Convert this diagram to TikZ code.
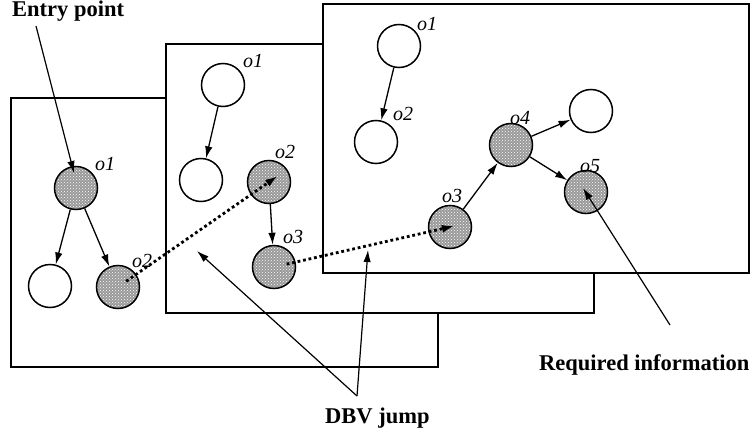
\documentclass[tikz,border=0pt]{standalone}
\usepackage{fontspec}
\setmainfont{Liberation Serif}
\usetikzlibrary{arrows.meta,patterns,calc}
\begin{document}
\begin{tikzpicture}[x=1pt,y=-1pt,
  frame/.style={draw, line width=1.4pt, fill=white},
  obj/.style={circle, draw, line width=1.5pt, minimum size=43pt, inner sep=0pt, fill=white},
  hit/.style={circle, draw, line width=1.5pt, minimum size=43pt, inner sep=0pt,
    preaction={fill=gray!80}, pattern=crosshatch dots, pattern color=white},
  lbl/.style={font=\fontsize{20}{24}\selectfont\itshape, inner sep=0pt},
  big/.style={font=\fontsize{22.5}{26}\selectfont\bfseries, inner sep=0pt},
  link/.style={line width=1.3pt, -{Latex[length=12pt,width=7.5pt]}},
  jump/.style={line width=2.8pt, dash pattern=on 2.8pt off 2.8pt, -{Latex[length=13pt,width=8pt]}},
  note/.style={line width=1.2pt, -{Latex[length=12pt,width=7.5pt]}}]
\useasboundingbox (0,0) rectangle (752,436);
% frames
\draw[frame] (11,98) rectangle (438,367);
\draw[frame] (166,44) rectangle (594,313);
\draw[frame] (323,4) rectangle (749,273);
% frame 1
\node[hit] (a1) at (76,188) {};
\node[obj] (a2) at (50,286) {};
\node[hit] (a3) at (118,287) {};
\node[lbl] (la1) at (105,164) {o1};
\node[lbl] (la3) at (142,261) {o2};
\draw[link] (a1) -- (a2);
\draw[link] (a1) -- (a3);
% frame 2
\node[obj] (b1) at (223,85) {};
\node[obj] (b2) at (201,180) {};
\node[hit] (b3) at (269,182) {};
\node[hit] (b4) at (274,267) {};
\node[lbl] (lb1) at (253,61) {o1};
\node[lbl] (lb3) at (285,152) {o2};
\node[lbl] (lb4) at (293,237) {o3};
\draw[link] (b1) -- (b2);
\draw[link] (b3) -- (b4);
% frame 3
\node[obj] (c1) at (399,46) {};
\node[obj] (c2) at (376,142) {};
\node[hit] (c3) at (450,227) {};
\node[hit] (c4) at (511,145) {};
\node[obj] (c6) at (591,111) {};
\node[hit] (c5) at (586,192) {};
\node[lbl] (lc1) at (427,24) {o1};
\node[lbl] (lc2) at (403,114) {o2};
\node[lbl] (lc3) at (452,196) {o3};
\node[lbl] (lc4) at (520,118) {o4};
\node[lbl] (lc5) at (590,166) {o5};
\draw[link] (c1) -- (c2);
\draw[link] (c3) -- (c4);
\draw[link] (c4) -- (c6);
\draw[link] (c4) -- (c5);
% DBV jumps
\draw[jump] ($(a3.center)!10pt!(b3.center)$) -- ($(b3.center)!-11pt!(a3.center)$);
\draw[jump] ($(b4.center)!13pt!(c3.center)$) -- ($(c3.center)!-5pt!(b4.center)$);
% annotations
\node[big, anchor=base west, text height=15pt] (entry) at (12,17) {Entry point};
\coordinate (entryfoot) at (36,26);
\draw[note] (entryfoot) -- (74,173);
\node[big, anchor=base west] (dbv) at (325,423) {DBV jump};
\coordinate (dbvfoot) at (357,396);
\coordinate (dbvtip1) at (197,251);
\coordinate (dbvtip2) at (368,250);
\draw[note] (dbvfoot) -- (dbvtip1);
\draw[note] (dbvfoot) -- (dbvtip2);
\node[big, anchor=base west] (req) at (539,370) {Required information};
\coordinate (reqfoot) at (670,325);
\draw[note] (reqfoot) -- (583,188);
\end{tikzpicture}
\end{document}
